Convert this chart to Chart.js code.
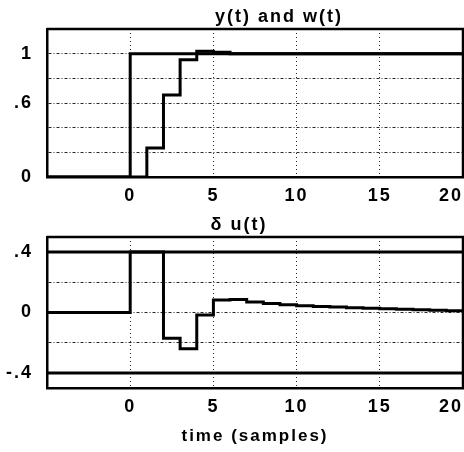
<!DOCTYPE html>
<html>
<head>
<meta charset="utf-8">
<script src="https://cdn.jsdelivr.net/npm/chart.js@4.4.0/dist/chart.umd.min.js"></script>
<style>
  html, body { margin: 0; padding: 0; background: #fff; }
  body { width: 464px; height: 452px; overflow: hidden; position: relative; }
  canvas { position: absolute; left: 0; }
  #topChart { top: 0; }
  #bottomChart { top: 208px; }
</style>
</head>
<body>
<canvas id="topChart" width="558" height="208"></canvas>
<canvas id="bottomChart" width="478" height="244"></canvas>
<script>
// samples: t = -5 only marks the left edge, the step starts at t = 0
const times = [-5, 0, 1, 2, 3, 4, 5, 6, 7, 8, 9, 10, 11, 12, 13, 14, 15, 16, 17, 18, 19, 20];
const wValues = [0, 1, 1, 1, 1, 1, 1, 1, 1, 1, 1, 1, 1, 1, 1, 1, 1, 1, 1, 1, 1, 1];
const yValues = [0, 0, 0.235, 0.665, 0.95, 1.02, 1.012, 1.0, 1.0, 1.0, 1.0, 1.0, 1.0, 1.0, 1.0, 1.0, 1.0, 1.0, 1.0, 1.0, 1.0, 1.0];
const duValues = [0, 0.4, 0.4, -0.17, -0.24, -0.017, 0.083, 0.086, 0.07, 0.06, 0.052, 0.045, 0.04, 0.036, 0.032, 0.028, 0.025, 0.021, 0.018, 0.015, 0.012, 0.009];

// input limits
const limitTimes = [-5, 20];
const duUpper = [0.4, 0.4];
const duLower = [-0.4, -0.4];

const xTicks = [0, 5, 10, 15, 20];
const topYTicks = [0, 0.2, 0.4, 0.6, 0.8, 1, 1.2];
const topYLabels = [0, 0.6, 1];
const bottomYTicks = [-0.5, -0.4, -0.2, 0, 0.2, 0.4, 0.5];
const bottomYLabels = [-0.4, 0, 0.4];

const FONT = "'Liberation Sans', Arial, sans-serif";

function fmt(v) {
  if (Math.abs(v) < 1e-9) return "0";
  return String(+v.toFixed(2)).replace(/^(-?)0\./, "$1.");
}

function points(xs, ys) {
  return xs.map((x, i) => ({ x, y: ys[i] }));
}

function line(data) {
  return {
    data,
    borderColor: "#000",
    borderWidth: 3,
    pointRadius: 0,
    stepped: "before",
    fill: false,
  };
}

// top and right edges of the box (left/bottom come from the axes)
const framePlugin = {
  id: "frame",
  beforeDraw(chart) {
    chart.ctx.letterSpacing = "2px"; // the scanned text is wide
  },
  afterDatasetsDraw(chart) {
    const { ctx, chartArea: a } = chart;
    ctx.save();
    ctx.strokeStyle = "#000";
    ctx.lineWidth = 2.5;
    ctx.beginPath();
    ctx.moveTo(a.left, a.top);
    ctx.lineTo(a.right, a.top);
    ctx.lineTo(a.right, a.bottom);
    ctx.stroke();
    ctx.restore();
  },
  afterDraw(chart) {
    chart.ctx.letterSpacing = "0px";
  },
};

function makePanel(canvasId, opts) {
  const ctx = document.getElementById(canvasId).getContext("2d");
  return new Chart(ctx, {
    type: "line",
    data: { datasets: opts.datasets },
    plugins: [framePlugin],
    options: {
      responsive: false,
      animation: false,
      plugins: {
        legend: { display: false },
        tooltip: { enabled: false },
        title: {
          display: true,
          text: opts.title,
          color: "#000",
          font: { family: FONT, size: 18, weight: "bold" },
          padding: { top: 6, bottom: 1.4 },
        },
      },
      scales: {
        x: {
          type: "linear",
          min: -5,
          max: 20,
          ticks: {
            stepSize: 5,
            color: "#000",
            padding: 0,
            align: "inner",
            maxRotation: 0,
            font: { family: FONT, size: 18, weight: "bold" },
            callback: (v) => (xTicks.includes(v) ? String(v) : ""),
          },
          grid: { color: "rgba(0,0,0,0.85)", lineWidth: 1, drawTicks: true, tickLength: 8, tickColor: "transparent" },
          border: { display: true, color: "#000", width: 2.5, dash: [1, 3] },
          title: opts.xTitle
            ? {
                display: true,
                text: opts.xTitle,
                color: "#000",
                font: { family: FONT, size: 17, weight: "bold" },
                padding: { top: 0, bottom: 5 },
              }
            : { display: false },
          afterFit: (s) => { s.height = opts.xHeight; },
        },
        y: {
          min: opts.yTicks[0],
          max: opts.yTicks[opts.yTicks.length - 1],
          afterBuildTicks: (s) => { s.ticks = opts.yTicks.map((value) => ({ value })); },
          ticks: {
            color: "#000",
            padding: 14,
            font: { family: FONT, size: 18, weight: "bold" },
            callback: (v) => (opts.yLabels.some((l) => Math.abs(l - v) < 1e-6) ? fmt(v) : ""),
          },
          grid: { color: "rgba(0,0,0,0.85)", lineWidth: 1, drawTicks: false },
          border: { display: true, color: "#000", width: 2.5, dash: [3, 2, 1, 2] },
          afterFit: (s) => { s.width = 47; },
        },
        // empty strip on the right: keeps the title centred as in the figure
        yRight: {
          position: "right",
          display: true,
          ticks: { display: false },
          grid: { display: false },
          border: { display: false },
          afterFit: (s) => { s.width = opts.padRight; },
        },
      },
    },
  });
}

makePanel("topChart", {
  title: "y(t) and w(t)",
  padRight: 95,
  xHeight: 31,
  yTicks: topYTicks,
  yLabels: topYLabels,
  datasets: [line(points(times, wValues)), line(points(times, yValues))],
});

makePanel("bottomChart", {
  title: "\u03b4 u(t)",
  padRight: 15,
  xHeight: 64,
  xTitle: "time (samples)",
  yTicks: bottomYTicks,
  yLabels: bottomYLabels,
  datasets: [
    line(points(limitTimes, duUpper)),
    line(points(limitTimes, duLower)),
    line(points(times, duValues)),
  ],
});
</script>
</body>
</html>
